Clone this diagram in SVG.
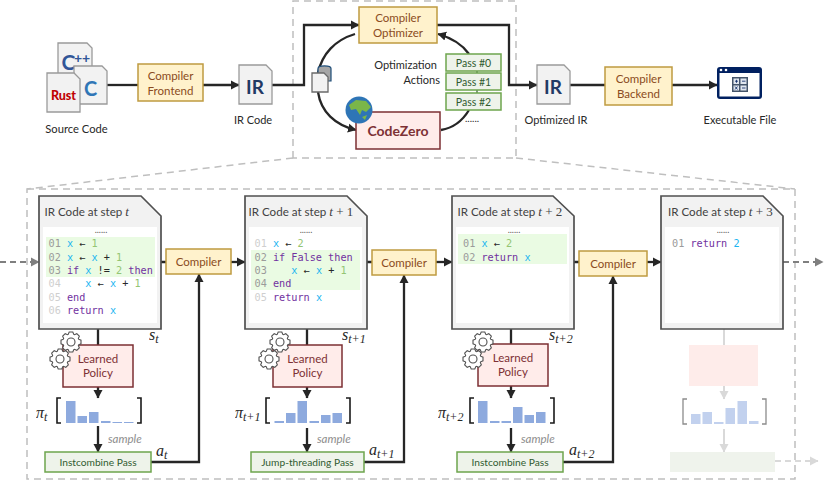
<svg xmlns="http://www.w3.org/2000/svg" width="830" height="481" viewBox="0 0 830 481">
<style>
text{font-family:"Lato","Liberation Sans",sans-serif;font-size:11px;fill:#262626;opacity:.99}
.m{text-anchor:middle}
.comp{fill:#fff2cc;stroke:#bf9b40;stroke-width:1.5}
.compt{fill:#8a4a20;font-size:11.5px;text-anchor:middle}
.pol{fill:#ffecea;stroke:#7c2f33;stroke-width:1.5}
.polt{fill:#7c2f33;font-size:11.5px;text-anchor:middle}
.pass{fill:#eef3ea;stroke:#6ea54d;stroke-width:1.5}
.passt{fill:#2f5a2f;font-size:10.2px;text-anchor:middle}
.src{fill:#f2f2f2;stroke:#9a9a9a;stroke-width:1.3}
.doc{fill:#f2f2f2;stroke:#505050;stroke-width:1.7}
.title{font-size:11.6px;fill:#404040}
.mi{font-family:"Liberation Serif",serif;font-style:italic;font-size:13px}
.mr{font-family:"Liberation Serif",serif;font-size:13px}
.sym{font-family:"Liberation Serif",serif;font-style:italic;font-size:16px}
.sub{font-family:"Liberation Serif",serif;font-style:italic;font-size:12px}
.code{font-family:"DejaVu Sans Mono",monospace;font-size:10.2px;fill:#262626;white-space:pre}
.dots{font-size:9px;fill:#595959;text-anchor:middle}
.n{fill:#9a9a9a}.nf{fill:#cfcfcf}.v{fill:#19b5f1}.k{fill:#7030a0}.d{fill:#93c572}
.ln{fill:none;stroke:#262626;stroke-width:2.3}
.dash{fill:none;stroke:#bfbfbf;stroke-width:1.5;stroke-dasharray:7 5}
.flow{fill:none;stroke:#7f7f7f;stroke-width:2;stroke-dasharray:6 4}
.fade{fill:none;stroke:#d9d9d9;stroke-width:2}
.gear{fill:#fff;stroke:#505050;stroke-width:1.1}
.bar{fill:#8eaade}.barf{fill:#c2d1ee}
.brk{fill:none;stroke:#1a1a1a;stroke-width:1.6}
.brkf{fill:none;stroke:#8c8c8c;stroke-width:1.3}
.smp{font-style:italic;font-size:11.5px;fill:#8c8c8c}
</style>
<defs>
<marker id="ah" markerUnits="userSpaceOnUse" markerWidth="9" markerHeight="10" refX="8" refY="5" orient="auto"><path d="M0 0.5L8.5 5L0 9.5z" fill="#262626"/></marker>
<marker id="ag" markerUnits="userSpaceOnUse" markerWidth="9" markerHeight="10" refX="8" refY="5" orient="auto"><path d="M0 0.5L8.5 5L0 9.5z" fill="#7f7f7f"/></marker>
<marker id="al" markerUnits="userSpaceOnUse" markerWidth="9" markerHeight="10" refX="8" refY="5" orient="auto"><path d="M0 0.5L8.5 5L0 9.5z" fill="#d9d9d9"/></marker>
<g id="gearshape"><path class="gear" d="M-2.8-7.6L-1.8-10L1.8-10L2.8-7.6L3.39-7.35L5.8-8.34L8.34-5.8L7.35-3.39L7.6-2.8L10-1.8L10 1.8L7.6 2.8L7.35 3.39L8.34 5.8L5.8 8.34L3.39 7.35L2.8 7.6L1.8 10L-1.8 10L-2.8 7.6L-3.39 7.35L-5.8 8.34L-8.34 5.8L-7.35 3.39L-7.6 2.8L-10 1.8L-10-1.8L-7.6-2.8L-7.35-3.39L-8.34-5.8L-5.8-8.34L-3.39-7.35z"/><circle class="gear" r="4"/></g>
</defs>
<rect width="830" height="481" fill="#fff"/>

<!-- dashed frames -->
<g id="frames">
<path class="dash" d="M293 158V1H516V158Z"/>
<path class="dash" d="M27 189H795V479H27Z"/>
<path class="dash" d="M293 158L27 189M516 158L795 189"/>
</g>

<!-- connectors -->
<g id="connectors">
<path class="ln" d="M107 85H138"/>
<path class="ln" marker-end="url(#ah)" d="M203 85H239"/>
<path class="ln" marker-end="url(#ah)" d="M272 85H304V25H359"/>
<path class="ln" marker-end="url(#ah)" d="M437 25H509V85H537"/>
<path class="ln" d="M570 85H605"/>
<path class="ln" marker-end="url(#ah)" d="M672 85H717"/>
<path class="ln" d="M355 34C335 40 322 54 318 73"/>
<path class="ln" marker-end="url(#ah)" d="M318 92C321 112 335 125 356 130"/>
<path class="ln" d="M441 130C453 128 463 120 469 110"/>
<path class="ln" marker-end="url(#ah)" d="M469 54C462 44 452 38 438 34"/>
<path d="M477 71V73M477 90V93" stroke="#2f5a2f" stroke-width="1.2"/>
<path class="flow" marker-end="url(#ag)" d="M0 262H39"/>
<path class="flow" marker-end="url(#ag)" d="M783 262H823"/>
<path class="ln" d="M161 262H166M367 262H372M574 262H579"/>
<path class="ln" marker-end="url(#ah)" d="M231 262H245"/>
<path class="ln" marker-end="url(#ah)" d="M436 262H452"/>
<path class="ln" marker-end="url(#ah)" d="M647 262H661"/>
<path class="ln" d="M98 329V345M307 329V345M511 329V345"/>
<path class="ln" marker-end="url(#ah)" d="M98 387V398"/>
<path class="ln" marker-end="url(#ah)" d="M307 387V398"/>
<path class="ln" marker-end="url(#ah)" d="M511 386V398"/>
<path class="ln" marker-end="url(#ah)" d="M98 426V452"/>
<path class="ln" marker-end="url(#ah)" d="M307 428V452"/>
<path class="ln" marker-end="url(#ah)" d="M511 428V452"/>
<path class="ln" marker-end="url(#ah)" d="M151 462H199V274"/>
<path class="ln" marker-end="url(#ah)" d="M364 462H404V275"/>
<path class="ln" marker-end="url(#ah)" d="M563 462H613V276"/>
<path class="fade" d="M724 329V345"/>
<path class="fade" marker-end="url(#al)" d="M724 386V399"/>
<path class="fade" marker-end="url(#al)" d="M724 429V452"/>
<path class="fade" marker-end="url(#al)" stroke-dasharray="6 4" d="M775 461H818"/>
</g>

<!-- source files -->
<g id="source-code">
<path class="src" d="M58 43H87L92 48V80H58Z"/>
<text x="61.500" y="70" font-weight="700" style="font-size:21px;fill:#2f5597">C</text>
<text x="74" y="63" font-weight="700" style="font-size:14px;fill:#2f5597">++</text>
<path class="src" d="M74 66H102L107 71V104H74Z"/>
<text x="84" y="96" font-weight="700" style="font-size:20px;fill:#2e75b6">C</text>
<path class="src" d="M47 73H74L80 79V112H47Z"/>
<text x="63.500" y="100" class="m" font-weight="900" style="font-size:12.5px;fill:#c00000">Rust</text>
<text x="76.500" y="133" class="m" style="font-size:11.2px">Source Code</text>
</g>
<g id="frontend"><rect class="comp" x="138" y="64" width="65" height="37"/><text class="compt" x="170.500" y="80">Compiler</text><text class="compt" x="170.500" y="95">Frontend</text></g>
<g id="ir-code">
<path class="src" d="M239 65H266L272 71V104H239Z"/>
<text x="255" y="94" class="m" font-weight="700" style="font-size:19px;fill:#1f3864">IR</text>
<text x="253" y="124" class="m">IR Code</text>
</g>
<g id="optimizer"><rect class="comp" x="359" y="7" width="78" height="36"/><text class="compt" x="398" y="22">Compiler</text><text class="compt" x="398" y="37">Optimizer</text></g>
<g id="codezero">
<rect x="356" y="112" width="84" height="37" fill="#ffecea" stroke="#7c2f33" stroke-width="1.5"/>
<text x="398" y="136" class="m" font-weight="700" style="font-size:14px;fill:#7c2f33">CodeZero</text>
<circle cx="359" cy="110" r="13.500" fill="#2e75b6"/>
<path d="M349 105L356 100L366 101L371 107L366 112L362 110L360 115L356 109L351 110Z" fill="#7ab648"/>
<path d="M362 117L367 115L365 120Z" fill="#7ab648"/>
</g>
<g id="state-store">
<path d="M318 68.500C318 65 331 65 331 68.500V81H318Z" fill="#a6a6a6" stroke="#1f4e79" stroke-width="1.2"/>
<path class="src" style="stroke:#6a6a6a" d="M312 73H324L328 77V92H312Z"/>
</g>
<g id="actions">
<text x="437" y="69" text-anchor="end">Optimization</text>
<text x="440" y="84" text-anchor="end">Actions</text>
<rect class="pass" x="446" y="54" width="55" height="17"/><text class="passt" style="font-size:10.5px" x="473.500" y="67">Pass #0</text>
<rect class="pass" x="446" y="73" width="55" height="17"/><text class="passt" style="font-size:10.5px" x="473.500" y="86">Pass #1</text>
<rect class="pass" x="446" y="93" width="55" height="17"/><text class="passt" style="font-size:10.5px" x="473.500" y="106">Pass #2</text>
<text x="465" y="122" style="font-size:10px">......</text>
</g>
<g id="optimized-ir">
<path class="src" d="M537 65H564L570 71V104H537Z"/>
<text x="553" y="94" class="m" font-weight="700" style="font-size:19px;fill:#1f3864">IR</text>
<text x="556" y="124" class="m">Optimized IR</text>
</g>
<g id="backend"><rect class="comp" x="605" y="67" width="67" height="38"/><text class="compt" x="638.500" y="83">Compiler</text><text class="compt" x="638.500" y="98">Backend</text></g>
<g id="executable">
<rect x="717" y="67" width="45" height="32" rx="3" fill="#002060"/>
<rect x="719.500" y="73" width="40" height="23.500" fill="#fff"/>
<circle cx="721" cy="70" r="1.300" fill="#fff"/><circle cx="726" cy="70" r="1.300" fill="#fff"/>
<rect x="732" y="77" width="16" height="15" fill="#44546a"/>
<path d="M733.500 78.500h5.500v5.500h-5.500zM740.500 78.500h6v5.500h-6zM733.500 85.500h5.500v5h-5.500zM740.500 85.500h6v5h-6z" fill="#dfe5ee"/>
<path d="M735 81.200h3M736.500 79.800v3M742 81.200h3.500M735 86.500l2.500 3M737.500 86.500l-2.500 3M742 88h3.500" stroke="#002060" stroke-width=".8"/>
<text x="740" y="124" class="m">Executable File</text>
</g>

<!-- step t -->
<g id="step-t">
<path class="doc" d="M39 196H141L161 216V329H39Z"/>
<rect x="43" y="227" width="114" height="96" fill="#fff"/>
<rect x="46" y="237" width="109" height="40" fill="#eafbe3"/>
<text class="title" x="44.500" y="216">IR Code at step <tspan class="mi">t</tspan></text>
<text x="101" y="233" class="dots">......</text>
<text class="code" x="48.500" y="247"><tspan class="n">01</tspan> <tspan class="v">x</tspan> ← <tspan class="d">1</tspan></text>
<text class="code" x="48.500" y="260.500"><tspan class="n">02</tspan> <tspan class="v">x</tspan> ← <tspan class="v">x</tspan> + <tspan class="d">1</tspan></text>
<text class="code" x="48.500" y="274"><tspan class="n">03</tspan> <tspan class="k">if</tspan> <tspan class="v">x</tspan> != <tspan class="d">2</tspan> <tspan class="k">then</tspan></text>
<text class="code" x="48.500" y="287"><tspan class="nf">04</tspan>    <tspan class="v">x</tspan> ← <tspan class="v">x</tspan> + <tspan class="d">1</tspan></text>
<text class="code" x="48.500" y="300.500"><tspan class="nf">05</tspan> <tspan class="k">end</tspan></text>
<text class="code" x="48.500" y="314"><tspan class="nf">06</tspan> <tspan class="k">return</tspan> <tspan class="v">x</tspan></text>
<text class="sym" x="149" y="340">s<tspan class="sub" dy="3">t</tspan></text>
</g>
<g id="compiler-1"><rect class="comp" x="166" y="249" width="65" height="25"/><text class="compt" x="198.500" y="266">Compiler</text></g>
<g id="policy-1">
<rect class="pol" x="63" y="345" width="70" height="42"/><text class="polt" x="98" y="363">Learned</text><text class="polt" x="98" y="377">Policy</text>
<use href="#gearshape" x="71" y="342"/><use href="#gearshape" x="60" y="359"/>
</g>
<g id="dist-1">
<path class="brk" d="M61 398H57V423H61M137 398H141V423H137"/>
<rect class="bar" x="66" y="401" width="9.500" height="22"/><rect class="bar" x="77.500" y="416" width="9.500" height="7"/><rect class="bar" x="89" y="412" width="9.500" height="11"/><rect class="bar" x="101" y="421" width="9.500" height="2"/><rect class="bar" x="112.500" y="422" width="9.500" height="1"/><rect class="bar" x="124" y="422" width="9.500" height="1"/>
<text class="sym" x="36" y="418">π<tspan class="sub" dy="3">t</tspan></text>
<text x="108" y="443" class="smp">sample</text>
</g>
<g id="pass-1"><rect class="pass" x="45" y="452" width="106" height="20"/><text class="passt" x="98" y="466">Instcombine Pass</text>
<text class="sym" x="156" y="456">a<tspan class="sub" dy="3">t</tspan></text></g>

<!-- step t+1 -->
<g id="step-t1">
<path class="doc" d="M245 196H347L367 216V329H245Z"/>
<rect x="249" y="227" width="113" height="96" fill="#fff"/>
<rect x="251" y="250" width="109" height="40" fill="#eafbe3"/>
<text class="title" x="248.500" y="216">IR Code at step <tspan class="mi">t</tspan><tspan class="mr"> + 1</tspan></text>
<text x="306" y="233" class="dots">......</text>
<text class="code" x="254.500" y="247"><tspan class="nf">01</tspan> <tspan class="v">x</tspan> ← <tspan class="d">2</tspan></text>
<text class="code" x="254.500" y="260.500"><tspan class="n">02</tspan> <tspan class="k">if False then</tspan></text>
<text class="code" x="254.500" y="274"><tspan class="n">03</tspan>    <tspan class="v">x</tspan> ← <tspan class="v">x</tspan> + <tspan class="d">1</tspan></text>
<text class="code" x="254.500" y="287"><tspan class="n">04</tspan> <tspan class="k">end</tspan></text>
<text class="code" x="254.500" y="300.500"><tspan class="nf">05</tspan> <tspan class="k">return</tspan> <tspan class="v">x</tspan></text>
<text class="sym" x="342" y="340">s<tspan class="sub" dy="3">t+1</tspan></text>
</g>
<g id="compiler-2"><rect class="comp" x="372" y="250" width="64" height="25"/><text class="compt" x="404" y="267">Compiler</text></g>
<g id="policy-2">
<rect class="pol" x="273" y="345" width="69" height="42"/><text class="polt" x="307.500" y="363">Learned</text><text class="polt" x="307.500" y="377">Policy</text>
<use href="#gearshape" x="280" y="342"/><use href="#gearshape" x="269" y="359"/>
</g>
<g id="dist-2">
<path class="brk" d="M270 398H266V423H270M346 398H350V423H346"/>
<rect class="bar" x="274.500" y="421" width="9.500" height="2"/><rect class="bar" x="286" y="413" width="9.500" height="10"/><rect class="bar" x="297.500" y="401" width="9.500" height="22"/><rect class="bar" x="309.500" y="421" width="9.500" height="2"/><rect class="bar" x="321" y="415" width="9.500" height="8"/><rect class="bar" x="332.500" y="413" width="9.500" height="10"/>
<text class="sym" x="235" y="418">π<tspan class="sub" dy="3">t+1</tspan></text>
<text x="317" y="443" class="smp">sample</text>
</g>
<g id="pass-2"><rect class="pass" x="251" y="452" width="113" height="20"/><text class="passt" x="307.500" y="466">Jump-threading Pass</text>
<text class="sym" x="369" y="455">a<tspan class="sub" dy="3">t+1</tspan></text></g>

<!-- step t+2 -->
<g id="step-t2">
<path class="doc" d="M452 196H553L574 216V329H452Z"/>
<rect x="456" y="227" width="113" height="96" fill="#fff"/>
<rect x="458" y="234" width="109" height="30" fill="#eafbe3"/>
<text class="title" x="457.500" y="216">IR Code at step <tspan class="mi">t</tspan><tspan class="mr"> + 2</tspan></text>
<text x="514" y="233" class="dots">......</text>
<text class="code" x="463" y="247"><tspan class="n">01</tspan> <tspan class="v">x</tspan> ← <tspan class="d">2</tspan></text>
<text class="code" x="463" y="260.500"><tspan class="n">02</tspan> <tspan class="k">return</tspan> <tspan class="v">x</tspan></text>
<text class="sym" x="549" y="340">s<tspan class="sub" dy="3">t+2</tspan></text>
</g>
<g id="compiler-3"><rect class="comp" x="579" y="251" width="68" height="25"/><text class="compt" x="613" y="268">Compiler</text></g>
<g id="policy-3">
<rect class="pol" x="478" y="344" width="70" height="42"/><text class="polt" x="513" y="362">Learned</text><text class="polt" x="513" y="376">Policy</text>
<use href="#gearshape" x="483" y="342"/><use href="#gearshape" x="473" y="359"/>
</g>
<g id="dist-3">
<path class="brk" d="M474 398H470V423H474M550 398H554V423H550"/>
<rect class="bar" x="478" y="401" width="9.500" height="22"/><rect class="bar" x="490" y="421" width="9.500" height="2"/><rect class="bar" x="501.500" y="421" width="9.500" height="2"/><rect class="bar" x="513" y="407" width="9.500" height="16"/><rect class="bar" x="524.500" y="415" width="9.500" height="8"/><rect class="bar" x="536" y="412" width="9.500" height="11"/>
<text class="sym" x="438" y="418">π<tspan class="sub" dy="3">t+2</tspan></text>
<text x="521" y="443" class="smp">sample</text>
</g>
<g id="pass-3"><rect class="pass" x="457" y="452" width="106" height="20"/><text class="passt" x="510" y="466">Instcombine Pass</text>
<text class="sym" x="569" y="455">a<tspan class="sub" dy="3">t+2</tspan></text></g>

<!-- step t+3 -->
<g id="step-t3">
<path class="doc" d="M661 196H763L783 216V329H661Z"/>
<rect x="665" y="227" width="114" height="96" fill="#fff"/>
<text class="title" x="668" y="216">IR Code at step <tspan class="mi">t</tspan><tspan class="mr"> + 3</tspan></text>
<text x="723" y="233" class="dots">......</text>
<text class="code" x="672" y="247"><tspan class="n">01</tspan> <tspan class="k">return</tspan> <tspan class="v">2</tspan></text>
</g>
<g id="policy-4"><rect x="689" y="345" width="69" height="41" fill="#feecea"/></g>
<g id="dist-4">
<path class="brkf" d="M687 399H683V424H687M762 399H766V424H762"/>
<rect class="barf" x="691" y="414" width="9.500" height="10"/><rect class="barf" x="702.500" y="412" width="9.500" height="12"/><rect class="barf" x="714" y="422" width="9.500" height="2"/><rect class="barf" x="725.500" y="408" width="9.500" height="16"/><rect class="barf" x="737.500" y="401" width="9.500" height="23"/><rect class="barf" x="749" y="421" width="9.500" height="3"/>
</g>
<g id="pass-4"><rect x="670" y="452" width="105" height="20" fill="#eff3ec"/></g>
</svg>
